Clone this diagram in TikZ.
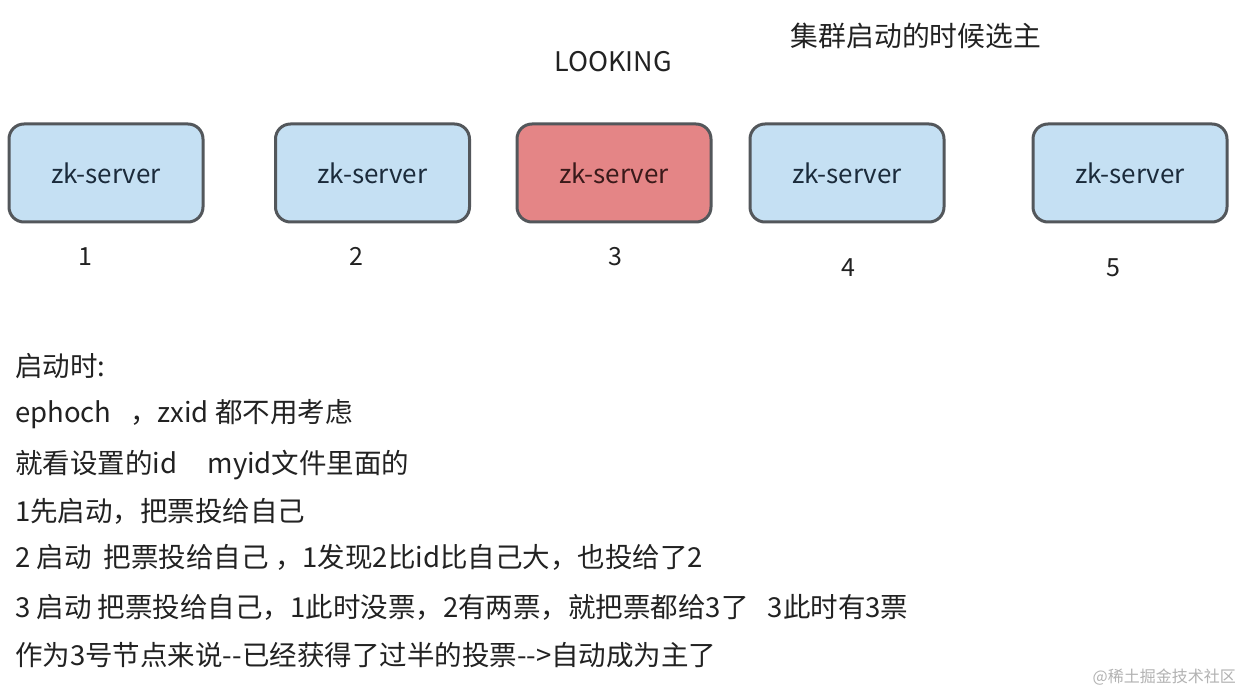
\documentclass[tikz,border=0pt]{standalone}
\usepackage{fontspec}
\setmainfont{Noto Sans CJK SC}
\definecolor{boxblue}{HTML}{C5E0F3}
\definecolor{boxred}{HTML}{E48586}
\definecolor{boxline}{HTML}{53575B}
\definecolor{txt}{HTML}{222222}
\definecolor{navy}{HTML}{1B2B3B}
\definecolor{darkred}{HTML}{3A1A1A}
\begin{document}
\begin{tikzpicture}[x=1pt,y=-1pt,
  server/.style={draw=boxline,line width=3pt,rounded corners=15pt,fill=boxblue,
    minimum width=194pt,minimum height=98pt,inner sep=0pt,font=\fontsize{26}{30}\selectfont,text=navy},
  num/.style={font=\fontsize{25}{28}\selectfont,text=txt,inner sep=0pt},
  body/.style={anchor=base west,font=\fontsize{27.5}{30}\selectfont,text=txt,inner sep=0pt}]
\useasboundingbox[fill=white] (0,0) rectangle (1240,692);
\node[server] (s1) at (106,173) {zk-server};
\node[server] (s2) at (372.5,173) {zk-server};
\node[server,fill=boxred,text=darkred] (s3) at (614,173) {zk-server};
\node[server] (s4) at (847,173) {zk-server};
\node[server] (s5) at (1130,173) {zk-server};
\node[num] (n1) at (85,257) {1};
\node[num] (n2) at (356,256) {2};
\node[num] (n3) at (615,257) {3};
\node[num] (n4) at (848,268) {4};
\node[num] (n5) at (1113,268) {5};
\node[font=\fontsize{27}{30}\selectfont,text=txt,inner sep=0pt] (look) at (613,62) {LOOKING};
\node[anchor=center,font=\fontsize{27.8}{30}\selectfont,text=txt,inner sep=0pt] (title) at (916,36) {集群启动的时候选主};
\node[body] (l1) at (15,377) {启动时:};
\node[body] (l2) at (15,423) {ephoch\ \ \ ，zxid 都不用考虑};
\node[body] (l3) at (15,473) {就看设置的id\hspace{1.1em}myid文件里面的};
\node[body] (l4) at (15,521) {1先启动，把票投给自己};
\node[body] (l5) at (15,567) {2 启动\ \ 把票投给自己 ，1发现2比id比自己大，也投给了2};
\node[body] (l6) at (15,617) {3 启动 把票投给自己，1此时没票，2有两票，就把票都给3了\hspace{0.7em}3此时有3票};
\node[body] (l7) at (15,665) {作为3号节点来说-{}-已经获得了过半的投票-{}->自动成为主了};
\node[anchor=east,font=\fontsize{16}{18}\selectfont,text=black!30,inner sep=0pt] (wm) at (1236,677) {@稀土掘金技术社区};
\end{tikzpicture}
\end{document}
